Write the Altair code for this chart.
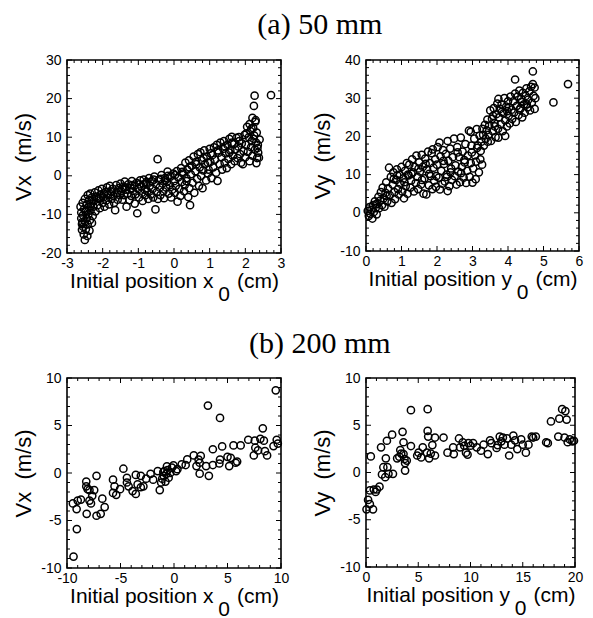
import altair as alt
import pandas as pd

# ---------------- data ----------------
# (a) 50 mm, Vx vs x0
a_x = [-2.62,-2.60,-2.60,-2.58,-2.58,-2.56,-2.55,-2.55,-2.53,-2.50,-2.52,-2.50,-2.50,-2.48,-2.47,-2.45,-2.45,-2.43,-2.42,-2.42,
       -2.40,-2.40,-2.38,-2.37,-2.36,-2.35,-2.34,-2.32,-2.30,-2.30,-2.28,-2.26,
       -2.25,-2.22,-2.20,-2.18,-2.15,-2.12,-2.10,-2.08,-2.05,-2.02,-2.00,-1.98,-1.95,-1.92,-1.90,-1.88,-1.85,-1.82,-1.80,-1.78,
       -1.75,-1.72,-1.70,-1.68,-1.65,-1.62,-1.60,-1.58,-1.55,-1.52,
       -1.50,-1.48,-1.45,-1.42,-1.40,-1.38,-1.35,-1.33,-1.30,-1.28,-1.25,-1.22,-1.20,-1.18,-1.15,-1.12,-1.10,-1.08,-1.05,-1.03,
       -1.00,-0.98,-0.95,-0.92,-0.90,-0.88,-0.85,-0.82,-0.80,-0.78,-0.75,-0.72,-0.70,-0.68,-0.65,-0.62,-0.60,-0.58,-0.55,-0.52,
       -0.50,-0.48,-0.46,-0.45,-0.42,-0.40,
       -0.38,-0.35,-0.32,-0.30,-0.28,-0.25,-0.22,-0.20,-0.18,-0.15,-0.12,-0.10,-0.08,-0.05,-0.02,0.00,0.02,0.05,0.08,0.10,
       0.12,0.15,0.18,0.20,0.22,0.25,0.28,0.30,
       0.32,0.35,0.37,0.40,0.42,0.43,0.45,0.47,0.50,0.52,0.55,0.57,0.60,0.62,0.65,0.67,0.70,0.72,0.74,0.76,0.78,0.80,0.82,0.85,
       0.87,0.90,0.92,0.95,0.97,
       1.00,1.02,1.05,1.08,1.10,1.12,1.15,1.18,1.20,1.22,1.25,1.28,1.30,1.33,1.35,1.38,1.40,1.42,1.45,1.48,1.50,
       1.52,1.55,1.58,1.60,1.62,1.65,1.68,1.70,1.72,1.75,1.78,1.80,1.82,1.85,1.88,1.90,1.93,1.95,1.98,
       2.00,2.02,2.05,2.07,2.10,2.12,2.14,2.16,2.18,2.20,2.20,2.22,2.24,2.25,2.26,2.27,2.28,2.29,2.30,2.31,2.32,2.33,2.35,2.36,
       2.38,2.40,2.72,
       -2.57,-2.47,-2.33,-2.15,-1.97,-1.77,-1.57,-1.37,-1.17,-0.97,-0.77,-0.57,-0.37,-0.17,0.03,0.23,0.43,0.63,0.83,1.03,
       1.23,1.43,1.63,1.83,2.03,2.17,2.23,2.34,-2.05,-1.45,-0.85,-0.25,0.35,0.95,1.55,2.12]
a_vx = [-8.0,-9.5,-11.0,-12.5,-14.0,-7.0,-10.2,-13.2,-15.2,-16.6,-8.6,-11.8,-6.0,-9.3,-13.8,-7.4,-11.0,-15.6,-5.0,-12.6,
        -8.2,-10.0,-6.3,-14.2,-11.5,-4.6,-9.0,-7.2,-12.2,-5.6,-10.4,-8.0,
        -6.6,-4.3,-9.2,-5.4,-7.6,-3.8,-6.0,-8.4,-4.8,-3.4,-7.0,-5.6,-8.0,-4.2,-6.4,-3.0,-5.0,-7.4,-2.6,-4.0,
        -6.0,-3.4,-5.2,-7.0,-8.9,-2.4,-4.4,-6.2,-3.2,-5.0,
        -2.0,-4.0,-6.2,-2.8,-5.0,-1.5,-3.6,-8.0,-4.6,-2.2,-6.3,-3.2,-5.2,-1.4,-4.0,-2.6,-7.2,-4.8,-1.8,-9.7,
        -3.4,-5.6,-1.2,-2.8,-4.4,-6.5,-1.0,-3.6,-5.0,-2.0,-4.0,-6.0,-0.6,-2.6,-4.8,-1.4,-3.4,-5.6,-0.2,-8.7,
        -2.2,-4.2,4.3,-6.0,-1.0,-3.0,
        -5.0,0.2,-2.0,-4.0,-5.8,-0.6,-3.0,-1.6,1.1,-4.6,-2.4,-0.2,-5.6,-3.6,0.6,-1.4,-4.4,-2.6,1.2,-6.7,
        -0.4,-3.4,-5.2,2.0,-1.6,0.6,-4.0,-2.4,
        3.4,-0.6,1.6,-5.5,4.0,-3.2,-7.6,0.4,2.6,-1.8,5.0,-4.4,1.2,3.6,-0.8,5.6,-2.6,2.2,6.1,0.0,4.0,-3.2,1.4,6.6,
        3.0,-1.2,5.0,0.6,1.6,
        7.0,3.6,-0.6,5.4,2.2,7.4,4.2,0.8,8.0,-1.3,6.0,3.0,8.6,4.8,1.6,7.0,9.0,3.4,5.8,2.0,8.0,
        4.4,9.6,6.6,3.0,10.1,5.2,8.2,3.8,6.8,9.8,4.6,7.6,10.0,5.6,3.4,8.4,3.0,6.4,10.6,
        4.8,8.0,12.7,6.2,10.0,3.8,11.6,7.4,9.0,15.0,5.2,12.4,18.1,10.4,20.75,6.8,14.0,14.4,8.6,3.3,11.2,4.6,8.0,6.0,
        4.7,9.4,20.9,
        -12.0,-9.0,-7.8,-5.8,-4.6,-4.8,-3.8,-3.0,-2.4,-2.2,-1.6,-1.0,-0.8,0.0,0.2,1.0,2.2,3.0,4.6,5.8,
        6.6,7.6,8.6,9.0,11.0,12.2,9.6,7.2,-5.8,-3.4,-2.2,-1.2,-1.4,3.4,6.0,13.4]

# (a) 50 mm, Vy vs y0
b_y0 = [0.05,0.08,0.10,0.12,0.15,0.18,0.20,0.22,0.25,0.27,0.30,0.32,0.35,0.37,0.40,0.42,0.45,0.47,0.50,0.52,
        0.55,0.57,0.60,0.62,0.65,0.67,0.70,0.72,0.75,0.77,0.80,0.82,0.85,0.87,0.90,0.92,0.95,0.97,
        1.00,1.02,1.05,1.07,1.10,1.12,1.15,1.17,1.20,1.22,1.25,1.27,1.30,1.32,1.35,1.37,1.40,1.42,1.45,1.47,1.50,
        1.52,1.55,1.57,1.60,1.62,1.65,1.67,1.70,1.72,1.75,1.77,1.80,1.82,1.85,1.87,1.88,1.90,1.92,1.95,1.97,2.00,
        2.02,2.05,2.07,2.08,2.10,2.12,2.15,2.17,2.20,2.22,2.25,2.27,2.30,2.30,2.32,2.35,2.37,2.40,2.42,2.45,2.48,2.50,
        2.52,2.55,2.57,2.60,2.62,2.65,2.67,2.70,2.72,2.75,2.77,2.80,2.82,2.85,2.87,2.90,2.92,2.95,2.95,2.97,3.00,
        3.02,3.05,3.07,3.09,3.10,3.12,3.15,3.18,3.20,3.22,3.23,3.25,3.28,3.30,
        3.32,3.35,3.37,3.40,3.42,3.45,3.47,3.50,3.52,3.55,3.57,3.60,3.62,3.65,3.67,3.70,3.72,3.73,3.73,3.75,3.77,3.80,
        3.82,3.85,3.87,3.90,3.92,3.92,3.95,3.97,4.00,4.02,4.05,4.07,4.10,4.12,4.15,4.17,4.20,4.20,4.22,4.25,4.27,4.30,
        4.32,4.35,4.37,4.40,4.42,4.45,4.47,4.50,4.52,4.55,4.57,4.60,4.62,4.65,4.67,4.70,4.70,4.72,4.75,4.75,4.77,
        5.28,5.69,
        0.28,0.58,0.78,1.08,1.28,1.48,1.68,1.78,1.98,2.18,2.38,2.58,2.78,2.98,3.13,3.43,3.63,3.83,4.03,4.33,4.53,
        0.88,1.18,1.58,2.28,2.68,3.27,3.58,3.98,4.38]
b_vy = [0.5,-0.8,1.5,-0.2,0.8,-1.5,2.0,0.2,3.0,1.2,-0.4,2.4,4.2,1.2,3.2,5.4,2.0,6.6,3.8,1.6,
        5.2,8.0,3.0,6.4,11.8,4.6,9.4,2.6,7.4,10.6,5.4,3.6,8.6,11.4,6.2,4.8,10.0,7.6,
        12.0,5.6,9.0,3.8,11.0,7.0,13.0,5.0,9.8,12.6,6.6,8.4,14.0,10.6,5.6,12.0,7.8,15.0,9.4,6.2,13.2,
        10.8,7.4,15.2,12.0,5.0,9.0,14.2,4.8,11.4,16.0,7.2,13.0,9.6,15.6,6.2,16.6,11.8,8.4,14.0,6.8,12.6,
        17.2,9.2,18.4,6.1,14.8,11.0,7.6,16.4,12.8,8.2,15.4,10.0,18.8,5.7,13.6,7.0,16.8,11.6,8.6,14.6,19.4,9.6,
        12.4,7.4,17.2,10.8,14.6,8.0,19.7,12.0,16.0,9.2,13.8,18.0,7.8,11.0,15.0,21.5,9.4,21.2,13.0,17.6,7.9,
        11.6,19.4,15.0,8.8,13.4,21.9,17.6,10.6,20.2,14.0,16.2,18.6,22.0,20.4,
        17.6,23.0,19.4,21.6,24.4,20.4,22.8,26.8,18.8,24.6,21.4,27.4,23.4,19.8,25.8,28.6,22.0,29.8,19.7,25.0,27.2,23.2,
        28.4,21.4,26.0,30.0,20.1,24.2,27.8,22.6,29.2,25.4,23.4,30.4,27.0,24.6,29.2,26.2,34.9,31.2,23.8,28.0,30.4,25.6,
        32.0,27.4,29.8,25.0,31.4,28.4,26.2,30.6,32.6,27.6,29.6,31.8,26.8,33.0,28.8,37.0,33.7,30.6,32.8,27.2,30.0,
        28.9,33.7,
        2.2,4.4,8.8,8.0,10.2,11.6,12.8,10.2,9.6,13.6,10.6,15.8,13.2,15.8,17.0,18.6,22.6,26.4,27.6,27.0,28.4,
        9.8,10.0,8.6,9.4,10.4,12.6,25.4,26.6,29.0]

# (b) 200 mm, Vx vs x0
c_x = [9.51,3.17,4.30,8.30,-9.39,-9.08,-9.10,-9.45,-8.70,-9.00,-8.20,-8.20,-8.07,-8.16,-7.46,-7.64,-7.76,-7.90,-7.24,-7.24,
       -6.85,-6.70,-6.48,-7.90,-5.70,-5.70,-5.56,-5.40,-4.73,-4.40,-4.40,-4.24,-5.04,-3.87,-3.57,-3.57,-3.40,-3.10,-2.86,-3.10,
       -2.19,-1.95,-1.52,-1.33,-1.20,-0.96,-0.90,-0.72,-0.66,-0.50,-0.35,-0.20,-0.05,0.20,0.32,0.72,1.09,1.24,1.85,2.10,
       2.30,2.40,2.50,2.40,3.26,3.00,3.63,3.63,4.24,4.30,4.50,5.00,5.16,5.30,5.56,5.77,5.90,6.23,6.94,7.55,
       7.46,7.60,7.85,8.07,8.40,8.50,8.70,9.30,9.60,9.70,-1.10,-0.80,-2.60,-0.60,-1.00]
c_vx = [8.7,7.1,5.8,4.7,-8.8,-5.9,-3.8,-3.2,-2.8,-2.9,-0.9,-1.4,-1.7,-4.3,-1.8,-2.4,-3.2,-2.9,-0.3,-4.5,
        -4.3,-2.7,-3.6,-1.8,-0.7,-2.1,-1.4,-2.3,0.45,-0.5,-1.0,-1.4,-1.7,-1.9,-0.2,-2.2,-1.2,-0.3,-1.4,-1.5,
        -0.1,-0.7,0.2,-1.8,-1.0,-0.3,0.2,-0.1,0.7,-0.5,0.0,0.56,0.8,0.2,0.4,0.9,0.84,1.43,1.85,0.73,
        1.4,1.08,1.8,-0.07,-0.3,0.73,0.84,2.5,1.0,1.4,2.8,1.7,0.73,1.6,2.9,1.08,1.2,2.9,3.5,3.4,
        1.85,2.66,2.38,3.6,3.4,2.3,1.85,2.83,3.5,3.1,-0.6,-0.9,-0.6,0.3,0.1]

# (b) 200 mm, Vy vs y0
d_y0 = [0.05,0.20,0.37,0.67,0.46,0.37,0.74,0.92,1.04,1.29,1.44,1.53,1.66,1.84,1.90,2.05,2.15,2.00,2.50,2.58,
        2.98,3.19,3.28,3.37,3.50,3.59,3.59,3.68,3.74,3.74,3.90,4.30,4.30,4.90,5.03,5.28,5.43,5.90,5.90,5.83,
        5.95,6.04,6.20,6.35,6.60,6.60,7.42,7.80,8.34,8.40,8.90,9.00,9.26,9.40,9.57,9.72,9.80,10.00,10.25,10.60,
        11.00,11.25,11.66,11.87,12.00,12.50,12.60,12.80,12.95,13.10,13.25,13.50,13.70,13.90,14.10,14.26,14.48,14.85,15.00,15.30,
        15.55,15.86,16.00,16.25,17.24,17.40,17.70,18.40,18.50,18.77,19.08,19.20,19.00,19.30,19.50,19.75,19.90]
d_vy = [-3.9,-2.9,-3.35,-3.9,1.7,-1.9,-1.8,-2.06,-1.8,-1.5,2.66,-0.2,0.56,-0.5,1.5,0.56,-0.14,3.36,4.0,-0.14,
        1.5,1.67,2.38,2.0,4.3,3.2,1.95,1.43,1.0,0.2,1.26,6.6,2.8,1.8,2.1,1.6,2.66,6.7,4.4,2.1,
        3.8,1.5,2.0,2.9,3.7,1.8,3.7,2.1,2.66,1.95,3.6,2.66,3.2,2.83,2.1,1.9,3.1,2.83,3.1,2.66,
        2.3,2.94,1.95,3.4,3.1,2.6,2.9,3.8,3.3,3.7,2.94,3.6,1.8,2.94,3.9,3.4,2.48,3.5,2.94,2.1,
        2.94,3.8,3.7,3.8,3.2,3.1,5.4,3.8,5.7,6.7,6.5,5.6,3.7,3.2,3.5,3.3,3.36]

# axis tick labels
a_xticks = [-3, -2, -1, 0, 1, 2, 3]
a_vxticks = [-20, -10, 0, 10, 20, 30]
b_yticks = [0, 1, 2, 3, 4, 5, 6]
b_vyticks = [-10, 0, 10, 20, 30, 40]
c_xticks = [-10, -5, 0, 5, 10]
c_vxticks = [-10, -5, 0, 5, 10]
d_yticks = [0, 5, 10, 15, 20]
d_vyticks = [-10, -5, 0, 5, 10]

SANS = "Liberation Sans"
SERIF = "Liberation Serif"
NB = "\u00a0"
ZW = "\u200b"


def xtitle(var):
    return ["Initial position " + var + NB * 4 + "(cm)", ZW + NB * 17 + "0"]


def split_ticks(majors, step):
    lo, hi = majors[0], majors[-1]
    n = int(round((hi - lo) / step))
    vals = [round(lo + i * step, 6) for i in range(n + 1)]
    minor = [v for v in vals if not any(abs(v - m) < 1e-9 for m in majors)]
    return majors, minor


MAJ, MIN = 5, 3


def panel(xs, ys, xmaj, ymaj, xstep, ystep, W, H, xt, yt):
    pts = pd.DataFrame({"x": xs, "y": ys})
    xsc = alt.Scale(domain=[xmaj[0], xmaj[-1]], nice=False, zero=False)
    ysc = alt.Scale(domain=[ymaj[0], ymaj[-1]], nice=False, zero=False)
    common = dict(ticks=False, domain=False, grid=False, labelFont=SANS, labelFontSize=14,
                  labelColor="black", titleColor="black", titleFont=SANS,
                  titleFontWeight="normal", labelFlush=False, labelOverlap=False, labelBound=False,
                  labelExpr="toString(datum.value)")
    xax = alt.Axis(values=xmaj, title=xt, labelPadding=3, titlePadding=0, titleLineHeight=13,
                   titleFontSize=21, **common)
    yax = alt.Axis(values=ymaj, title=yt, labelPadding=6, titlePadding=5, titleFontSize=22, **common)
    X = alt.X("x:Q", scale=xsc, axis=xax)
    Y = alt.Y("y:Q", scale=ysc, axis=yax)
    layers = []
    xm, xn = split_ticks(xmaj, xstep)
    ym, yn = split_ticks(ymaj, ystep)
    rule = dict(color="black", strokeWidth=1)
    for vals, L in ((xm, MAJ), (xn, MIN)):
        df = pd.DataFrame({"x": vals})
        layers.append(alt.Chart(df).mark_rule(**rule).encode(x=X, y=alt.value(H), y2=alt.value(H - L)))
        layers.append(alt.Chart(df).mark_rule(**rule).encode(x=X, y=alt.value(0), y2=alt.value(L)))
    for vals, L in ((ym, MAJ), (yn, MIN)):
        df = pd.DataFrame({"y": vals})
        layers.append(alt.Chart(df).mark_rule(**rule).encode(y=Y, x=alt.value(0), x2=alt.value(L)))
        layers.append(alt.Chart(df).mark_rule(**rule).encode(y=Y, x=alt.value(W), x2=alt.value(W - L)))
    points = alt.Chart(pts).mark_point(shape="circle", filled=False, color="black", size=52,
                                       strokeWidth=1.5, opacity=1).encode(x=X, y=Y)
    layers.append(points)
    return alt.layer(*layers).properties(width=W, height=H)


p1 = panel(a_x, a_vx, a_xticks, a_vxticks, 0.2, 2, 214, 193, xtitle("x"), "Vx" + NB * 2 + "(m/s)")
p2 = panel(b_y0, b_vy, b_yticks, b_vyticks, 0.2, 2, 213, 191, xtitle("y"), "Vy" + NB * 2 + "(m/s)")
p3 = panel(c_x, c_vx, c_xticks, c_vxticks, 1, 1, 214, 190, xtitle("x"), "Vx" + NB * 2 + "(m/s)")
p4 = panel(d_y0, d_vy, d_yticks, d_vyticks, 1, 1, 209, 189, xtitle("y"), "Vy" + NB * 2 + "(m/s)")


def ttl(text, off):
    return alt.TitleParams(text, font=SERIF, fontSize=30, fontWeight="normal", color="black",
                           anchor="middle", offset=off, dx=22)


row1 = alt.hconcat(p1, p2, spacing=24).properties(title=ttl("(a) 50 mm", 12))
row2 = alt.hconcat(p3, p4, spacing=20).properties(title=ttl("(b) 200 mm", 11))

chart = alt.vconcat(row1, row2, spacing=24).properties(
    padding={"left": 3, "top": 2, "right": 0, "bottom": 4}
).configure_view(stroke="black", strokeWidth=1.6)

chart.save("out.html", embed_options={"renderer": "svg", "actions": False})
